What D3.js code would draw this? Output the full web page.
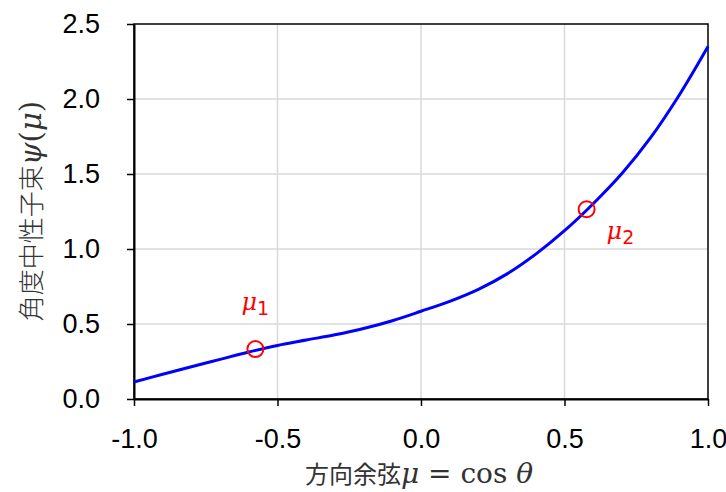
<!DOCTYPE html>
<html>
<head>
<meta charset="utf-8">
<script src="https://cdn.jsdelivr.net/npm/d3@7"></script>
<style>
  body { margin: 0; background: #fff; }
  svg { display: block; }
</style>
</head>
<body>
<script>
// angular flux curve
const muVals  = [-1.0, -0.9, -0.8, -0.7, -0.6, -0.5, -0.4, -0.3, -0.2, -0.1, 0.0,
                  0.1, 0.2, 0.3, 0.4, 0.5, 0.6, 0.7, 0.8, 0.9, 1.0];
const psiVals = [0.113, 0.165, 0.215, 0.264, 0.313, 0.357, 0.393, 0.428, 0.470, 0.522, 0.585,
                 0.651, 0.731, 0.834, 0.966, 1.122, 1.302, 1.503, 1.742, 2.027, 2.350];

// the two marked directions
const markMu     = [-0.577, 0.577];
const markPsi    = [0.333, 1.265];
const markSubs   = ['1', '2'];

const xTicks = [-1.0, -0.5, 0.0, 0.5, 1.0];
const yTicks = [0.0, 0.5, 1.0, 1.5, 2.0, 2.5];

const w = 726,
      h = 492,
      pLeft = 134,
      pRight = 708,
      pTop = 24,
      pBottom = 399;

const svg = d3.select('body')
            .append('svg')
            .attr('width', w)
            .attr('height', h);

const xScale = d3.scaleLinear()
                .domain([-1, 1])
                .range([pLeft, pRight]);
const yScale = d3.scaleLinear()
                .domain([0, 2.5])
                .range([pBottom, pTop]);

// grid
svg.append('g')
    .selectAll('line')
    .data(yTicks.slice(1, -1))
    .enter()
    .append('line')
    .attr('x1', pLeft).attr('x2', pRight)
    .attr('y1', d => yScale(d)).attr('y2', d => yScale(d))
    .attr('stroke', '#d9d9d9')
    .attr('stroke-width', 1.5);
svg.append('g')
    .selectAll('line')
    .data(xTicks.slice(1, -1))
    .enter()
    .append('line')
    .attr('y1', pTop).attr('y2', pBottom)
    .attr('x1', d => xScale(d)).attr('x2', d => xScale(d))
    .attr('stroke', '#d9d9d9')
    .attr('stroke-width', 1.5);

// frame
svg.append('rect')
    .attr('x', pLeft).attr('y', pTop)
    .attr('width', pRight - pLeft).attr('height', pBottom - pTop)
    .attr('fill', 'none')
    .attr('stroke', '#000')
    .attr('stroke-width', 1.5);

const xAxis = d3.axisBottom(xScale)
                .tickValues(xTicks)
                .tickSizeInner(7).tickSizeOuter(0)
                .tickPadding(23);
const yAxis = d3.axisLeft(yScale)
                .tickValues(yTicks)
                .tickSizeInner(7).tickSizeOuter(0)
                .tickPadding(27);

const gx = svg.append('g')
    .attr('transform', 'translate(0,' + pBottom + ')')
    .call(xAxis);
const gy = svg.append('g')
    .attr('transform', 'translate(' + pLeft + ',0)')
    .call(yAxis);

[gx, gy].forEach(g => {
  g.select('.domain').attr('stroke', '#000').attr('stroke-width', 2);
  g.selectAll('.tick line').attr('stroke', '#000').attr('stroke-width', 1.5);
  g.selectAll('.tick text')
    .attr('fill', '#000')
    .style('font-family', '"Liberation Sans", Arial, sans-serif')
    .style('font-size', '27px')
    .text(d => d3.format('.1f')(d).replace('−', '-'));
});

// curve
const line = d3.line()
    .x((d, i) => xScale(muVals[i]))
    .y(d => yScale(d))
    .curve(d3.curveCatmullRom.alpha(0.5));

svg.append('path')
    .datum(psiVals)
    .attr('d', line)
    .attr('fill', 'none')
    .attr('stroke', '#0000ff')
    .attr('stroke-width', 3);

// markers
svg.selectAll('circle.mark')
    .data(markMu)
    .enter()
    .append('circle')
    .attr('class', 'mark')
    .attr('cx', d => xScale(d))
    .attr('cy', (d, i) => yScale(markPsi[i]))
    .attr('r', 8)
    .attr('fill', 'none')
    .attr('stroke', '#ff0000')
    .attr('stroke-width', 2);

const labelOffset = [[-14, -39], [20, 30]];
const labels = svg.selectAll('text.mlab')
    .data(markMu)
    .enter()
    .append('text')
    .attr('class', 'mlab')
    .attr('x', (d, i) => xScale(d) + labelOffset[i][0])
    .attr('y', (d, i) => yScale(markPsi[i]) + labelOffset[i][1])
    .attr('fill', '#ff0000')
    .style('font-family', '"DejaVu Serif", serif')
    .style('font-size', '24px');
labels.append('tspan')
    .style('font-style', 'italic')
    .text('μ');
labels.append('tspan')
    .attr('dy', 5)
    .style('font-family', '"DejaVu Sans", sans-serif')
    .style('font-size', '19px')
    .text((d, i) => markSubs[i]);

// axis titles
const xt = svg.append('text')
    .attr('x', (pLeft + pRight) / 2 - 2)
    .attr('y', 483)
    .attr('text-anchor', 'middle')
    .attr('fill', '#333')
    .style('font-size', '24px');
xt.append('tspan')
    .style('font-family', '"Noto Sans CJK JP", "Noto Sans CJK SC", sans-serif')
    .text('方向余弦');
xt.append('tspan')
    .style('font-family', '"DejaVu Serif", serif')
    .style('font-size', '28px')
    .style('font-style', 'italic')
    .text('μ');
xt.append('tspan')
    .style('font-family', '"DejaVu Serif", serif')
    .style('font-size', '28px')
    .attr('xml:space', 'preserve')
    .text(' = cos ');
xt.append('tspan')
    .style('font-family', '"DejaVu Serif", serif')
    .style('font-size', '28px')
    .style('font-style', 'italic')
    .text('θ');

const yt = svg.append('text')
    .attr('transform', 'translate(41,211) rotate(-90)')
    .attr('text-anchor', 'middle')
    .attr('fill', '#333')
    .style('font-size', '26px');
yt.append('tspan')
    .style('font-family', '"Noto Sans CJK JP", "Noto Sans CJK SC", sans-serif')
    .style('font-weight', 300)
    .text('角度中性子束');
const ytMath = [['ψ', 'italic'], ['(', 'normal'], ['μ', 'italic'], [')', 'normal']];
ytMath.forEach(p => {
  yt.append('tspan')
    .style('font-family', '"DejaVu Serif", serif')
    .style('font-size', '29px')
    .style('font-style', p[1])
    .text(p[0]);
});
</script>
</body>
</html>
